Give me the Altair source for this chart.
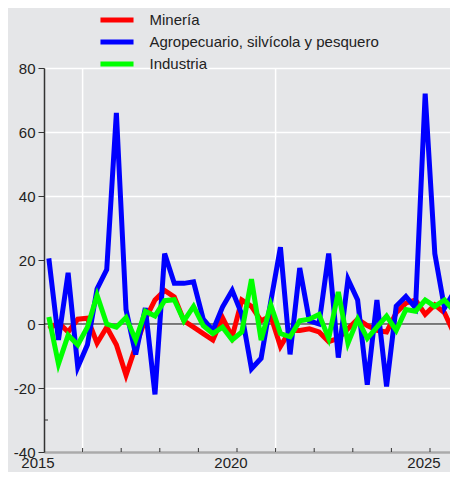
import altair as alt
import pandas as pd

# Quarterly periods 2015T1 .. 2025T3
years = list(range(2015, 2026))
quarters = [(y, q) for y in years for q in range(1, 5)][:43]

mineria = [-1.5, 0.5, -2.5, 1.5, 1.8, -6.0, -1.0, -6.5, -16.0, -7.0,
           1.5, 7.5, 10.5, 8.5, 1.0, -1.0, -3.0, -5.0, 2.0, -4.0,
           7.5, 5.5, 1.0, 2.5, -7.0, -2.0, -2.0, -1.5, -2.5, -5.5,
           -4.5, -1.5, 1.5, -0.5, -2.0, -2.5, 3.5, 6.5, 7.5, 3.0,
           6.0, 3.5, -3.0]
agro = [20.5, -5.0, 16.0, -13.5, -6.5, 11.0, 17.0, 66.0, 4.5, -9.5,
        5.0, -22.0, 22.0, 12.7, 12.7, 13.2, 1.5, -2.0, 5.3, 10.5,
        3.0, -14.0, -10.7, 7.0, 24.0, -9.5, 17.5, 1.0, 0.0, 22.0,
        -10.5, 14.0, 7.5, -19.0, 7.5, -19.5, 5.6, 8.6, 5.0, 72.0,
        22.0, 5.0, 10.0]
industria = [2.2, -12.5, -3.5, -6.5, -1.0, 9.0, 0.0, -1.0, 2.0, -5.0,
             4.0, 2.5, 7.3, 7.6, 1.0, 5.5, -0.5, -3.0, -1.0, -5.0,
             -2.5, 14.0, -5.0, 6.0, -3.0, -4.0, 1.0, 1.5, 3.0, -4.5,
             10.0, -6.0, 1.5, -4.5, -1.0, 2.5, -2.0, 4.5, 4.0, 7.5,
             5.5, 7.5, 4.0]

series_names = ["Minería", "Agropecuario, silvícola y pesquero", "Industria"]
series_values = [mineria, agro, industria]
series_colors = ["#ff0000", "#0000ff", "#00ff00"]

grid_years = [2016, 2021]
tick_years = list(range(2016, 2026))
label_years = [2015, 2020, 2025]
y_ticks = [-40, -20, 0, 20, 40, 60, 80]

rows = []
for name, vals in zip(series_names, series_values):
    for (y, q), v in zip(quarters, vals):
        rows.append({"t": y + (q - 0.5) / 4, "v": v, "serie": name})
df = pd.DataFrame(rows)

BG = "#e5e6e8"
W, H = 406, 384
FONT = "Liberation Sans"

xscale = alt.Scale(domain=[2015, 2015 + W / 38.6], nice=False, zero=False)
yscale = alt.Scale(domain=[-40, 80], nice=False, zero=False)

x_axis = alt.Axis(
    values=label_years,
    format="d",
    grid=False,
    ticks=False,
    labelFlush=False,
    labelOffset=-6.5,
    labelPadding=3,
    labelFontSize=15,
    labelColor="#222222",
    labelFont=FONT,
    domainColor="#aaaaaa",
    domainWidth=2.5,
)
y_axis = alt.Axis(
    values=y_ticks,
    labelExpr="'' + datum.value",
    grid=True,
    gridColor="white",
    gridWidth=1.5,
    tickColor="#333333",
    tickSize=6,
    labelPadding=3,
    labelFontSize=15,
    labelColor="#222222",
    labelFont=FONT,
    domainColor="#333333",
    domainWidth=1.5,
)


def X(field):
    return alt.X(field, scale=xscale, title=None, axis=x_axis)


def Y(field):
    return alt.Y(field, scale=yscale, title=None, axis=y_axis)


grid_x = alt.Chart(pd.DataFrame({"t": grid_years})).mark_rule(
    color="white", strokeWidth=1.5
).encode(x=X("t:Q"))

zero = alt.Chart(pd.DataFrame({"v": [0]})).mark_rule(
    color="black", strokeWidth=1
).encode(y=Y("v:Q"))

xticks = alt.Chart(pd.DataFrame({"t": tick_years})).mark_rule(
    color="#333333", strokeWidth=1
).encode(
    x=X("t:Q"),
    y=alt.value(H - 4),
    y2=alt.value(H),
)

minor = alt.Chart(pd.DataFrame({"v": [-30]})).mark_rule(
    color="#333333", strokeWidth=1
).encode(
    y=Y("v:Q"),
    x=alt.value(0),
    x2=alt.value(4),
)

lines = alt.Chart(df).mark_line(strokeWidth=5, clip=False).encode(
    x=X("t:Q"),
    y=Y("v:Q"),
    color=alt.Color(
        "serie:N",
        scale=alt.Scale(domain=series_names, range=series_colors),
        sort=series_names,
        legend=alt.Legend(
            title=None,
            orient="none",
            legendX=61,
            legendY=-60,
            symbolType="M-1.74,0H1.74",
            symbolSize=361,
            symbolStrokeWidth=5,
            labelFontSize=15,
            labelFont=FONT,
            labelColor="#222222",
            labelOffset=20.5,
            labelLimit=400,
            rowPadding=0,
            padding=0,
        ),
    ),
)

chart = alt.layer(grid_x, zero, xticks, minor, lines).properties(
    width=W,
    height=H,
    padding={"left": 36, "top": 60, "right": 0, "bottom": 20},
    autosize=alt.AutoSizeParams(type="none"),
    background=BG,
).configure_view(fill=BG, stroke=None)

chart.save("out.html", embed_options={"renderer": "svg", "actions": False})
